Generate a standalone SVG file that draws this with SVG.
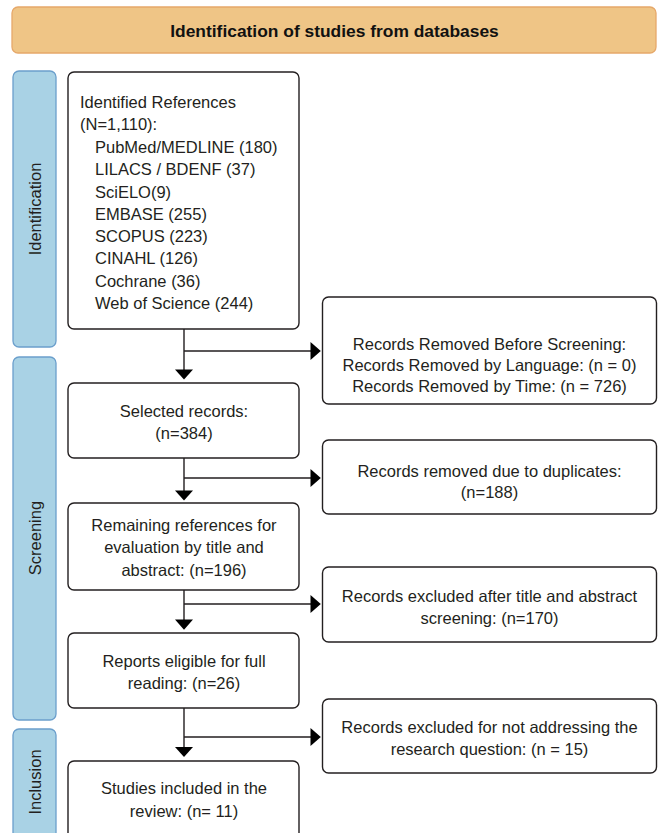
<svg xmlns="http://www.w3.org/2000/svg" width="661" height="833" viewBox="0 0 661 833">
<style>
text{font-family:"Liberation Sans",Arial,sans-serif;font-size:16.5px;fill:#231f20}
.hdr{fill:#efc586;stroke:#e6a86a;stroke-width:1.3}
.hdrt{font-weight:bold;font-size:17.4px;text-anchor:middle;fill:#111}
.phase{fill:#a9d2e5;stroke:#6b9fcc;stroke-width:1.3}
.pt{text-anchor:middle}
.box{fill:#fff;stroke:#231f20;stroke-width:1.4}
.c{text-anchor:middle}
.ln{stroke:#231f20;stroke-width:1.4;fill:none}
.ah{fill:#000}
</style>
<g id="header">
<rect class="hdr" x="12" y="7" width="644" height="46" rx="6"/>
<text class="hdrt" x="334.5" y="37">Identification of studies from databases</text>
</g>
<g id="phase-identification">
<rect class="phase" x="13" y="71" width="43" height="276" rx="6"/>
<text class="pt" transform="translate(40.5,209) rotate(-90)">Identification</text>
</g>
<g id="phase-screening">
<rect class="phase" x="13" y="357" width="43" height="363" rx="6"/>
<text class="pt" transform="translate(40.5,538) rotate(-90)">Screening</text>
</g>
<g id="phase-inclusion">
<rect class="phase" x="13" y="729" width="43" height="116" rx="6"/>
<text class="pt" transform="translate(40.5,782) rotate(-90)">Inclusion</text>
</g>
<g id="identified">
<rect class="box" x="68" y="72" width="231" height="257" rx="6"/>
<text x="80" y="107.5">Identified References</text>
<text x="80" y="130">(N=1,110):</text>
<text x="95" y="152.5">PubMed/MEDLINE (180)</text>
<text x="95" y="175">LILACS / BDENF (37)</text>
<text x="95" y="197.5">SciELO(9)</text>
<text x="95" y="219.8">EMBASE (255)</text>
<text x="95" y="242">SCOPUS (223)</text>
<text x="95" y="264.4">CINAHL (126)</text>
<text x="95" y="286.8">Cochrane (36)</text>
<text x="95" y="309">Web of Science (244)</text>
</g>
<g id="removed-before">
<rect class="box" x="322.5" y="297" width="334" height="107" rx="6"/>
<text class="c" x="489.5" y="350">Records Removed Before Screening:</text>
<text class="c" x="489.5" y="371">Records Removed by Language: (n = 0)</text>
<text class="c" x="489.5" y="391.5">Records Removed by Time: (n = 726)</text>
</g>
<g id="selected">
<rect class="box" x="68" y="383" width="231" height="75" rx="6"/>
<text class="c" x="184" y="417">Selected records:</text>
<text class="c" x="184" y="439">(n=384)</text>
</g>
<g id="duplicates">
<rect class="box" x="322.5" y="440" width="334" height="74" rx="6"/>
<text class="c" x="489.5" y="477">Records removed due to duplicates:</text>
<text class="c" x="489.5" y="497.7">(n=188)</text>
</g>
<g id="remaining">
<rect class="box" x="68" y="503" width="231" height="87" rx="6"/>
<text class="c" x="184" y="531">Remaining references for</text>
<text class="c" x="184" y="553.3">evaluation by title and</text>
<text class="c" x="184" y="576">abstract: (n=196)</text>
</g>
<g id="excluded-title">
<rect class="box" x="322.5" y="567" width="334" height="75" rx="6"/>
<text class="c" x="489.5" y="601.7">Records excluded after title and abstract</text>
<text class="c" x="489.5" y="624">screening: (n=170)</text>
</g>
<g id="eligible">
<rect class="box" x="68" y="633" width="231" height="75" rx="6"/>
<text class="c" x="184" y="666.7">Reports eligible for full</text>
<text class="c" x="184" y="688.7">reading: (n=26)</text>
</g>
<g id="excluded-question">
<rect class="box" x="322.5" y="699" width="334" height="74" rx="6"/>
<text class="c" x="489.5" y="732.7">Records excluded for not addressing the</text>
<text class="c" x="489.5" y="755.3">research question: (n = 15)</text>
</g>
<g id="included">
<rect class="box" x="68" y="761" width="231" height="90" rx="6"/>
<text class="c" x="184" y="794.3">Studies included in the</text>
<text class="c" x="184" y="816.7">review: (n= 11)</text>
</g>
<g id="connectors">
<path class="ln" d="M184 329V370M184 351H311"/>
<polygon class="ah" points="175,369.5 193,369.5 184,379.5"/>
<polygon class="ah" points="310.5,342 310.5,360 320.8,351"/>
<path class="ln" d="M184 458V491M184 478H311"/>
<polygon class="ah" points="175,490.5 193,490.5 184,500.5"/>
<polygon class="ah" points="310.5,469 310.5,487 320.8,478"/>
<path class="ln" d="M184 590V620M184 604H311"/>
<polygon class="ah" points="175,619.5 193,619.5 184,629.7"/>
<polygon class="ah" points="310.5,595 310.5,613 320.8,604"/>
<path class="ln" d="M184 708V747M184 737H311"/>
<polygon class="ah" points="175,747 193,747 184,757"/>
<polygon class="ah" points="310.5,728 310.5,746 320.8,737"/>
</g>
</svg>
